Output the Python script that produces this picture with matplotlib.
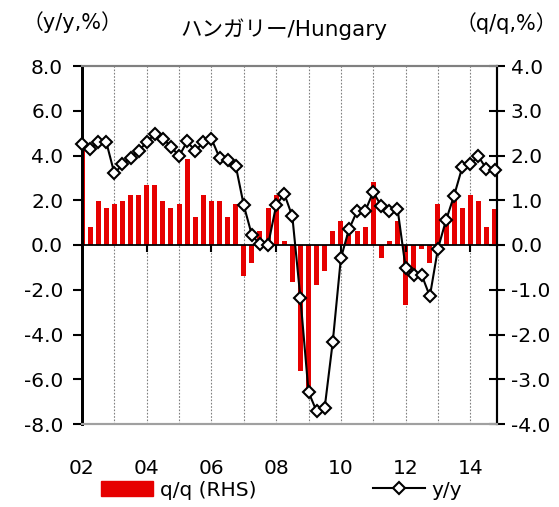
import numpy as np
import matplotlib.pyplot as plt
from matplotlib.patches import Patch
from matplotlib.lines import Line2D

plt.rcParams['font.family'] = ['DejaVu Sans', 'Noto Sans CJK JP']

# quarterly, 2002Q1 .. 2014Q4
yy = [4.5, 4.3, 4.6, 4.6, 3.2, 3.6, 3.9, 4.2, 4.6, 4.95, 4.75, 4.4,
      3.97, 4.63, 4.2, 4.6, 4.75, 3.9, 3.82, 3.55, 1.77, 0.44, 0.03, 0.0,
      1.77, 2.29, 1.28, -2.37, -6.57, -7.43, -7.27, -4.32, -0.59, 0.70, 1.51, 1.51,
      2.37, 1.74, 1.51, 1.63, -1.01, -1.35, -1.35, -2.29, -0.16, 1.11, 2.21, 3.47,
      3.62, 3.96, 3.40, 3.37]
qq = [2.15, 0.40, 0.99, 0.82, 0.91, 0.99, 1.12, 1.12, 1.34, 1.34, 0.99, 0.82,
      0.91, 1.93, 0.62, 1.12, 0.99, 0.99, 0.62, 0.91, -0.70, -0.40, 0.32, 0.82,
      1.12, 0.10, -0.82, -2.82, -3.3, -0.90, -0.59, 0.31, 0.53, 0.22, 0.31, 0.40,
      1.41, -0.30, 0.10, 0.53, -1.34, -0.70, -0.10, -0.40, 0.91, 0.60, 1.0, 0.82,
      1.12, 0.99, 0.40, 0.80]
year_labels = ['02', '04', '06', '08', '10', '12', '14']

x = np.arange(len(yy))
year_pos = np.arange(0, len(yy), 8)
grid_pos = np.arange(4, len(yy), 4)

red = '#e60000'
fs = 14.5

fig = plt.figure(figsize=(5.59, 5.07), dpi=100)
ax = fig.add_axes([82/559, 83/507, 415/559, 358/507])   # host: q/q bars, right scale
ax2 = ax.twinx()                                         # y/y line, left scale
ax.yaxis.tick_right()
ax2.yaxis.tick_left()

ax.bar(x, qq, width=0.62, color=red, zorder=2)
ax.set_xlim(0, 51.3)
ax.set_ylim(-4, 4)
ax.set_yticks(np.arange(-4, 4.1, 1))
ax.set_yticklabels(['%.1f' % v for v in np.arange(-4, 4.1, 1)])
ax.tick_params(axis='y', which='both', right=True, left=False, labelright=True,
               labelleft=False, direction='inout', length=12, width=1.5,
               labelsize=fs, pad=4)

ax.set_xticks(year_pos)
ax.set_xticklabels(year_labels)
ax.set_xticks(grid_pos, minor=True)
ax.tick_params(axis='x', which='both', length=0, labelsize=fs, pad=25)
ax.grid(axis='x', which='both', color='#808080', linestyle=(0, (1.5, 1.5)), lw=0.8, zorder=0)

ax2.plot(x, yy, color='black', lw=1.5, marker='D', ms=6.5, mfc='white',
         mec='black', mew=1.5, zorder=5, clip_on=False)
ax2.axhline(0, color='black', lw=1.3, zorder=3)
ax2.plot(year_pos[1:], np.zeros(len(year_pos) - 1), ls='', marker=3, ms=5,
         mew=1.5, color='black', zorder=3)
ax2.set_ylim(-8, 8)
ax2.set_yticks(np.arange(-8, 8.1, 2))
ax2.set_yticklabels(['%.1f' % v for v in np.arange(-8, 8.1, 2)])
ax2.tick_params(axis='y', direction='out', length=6.5, width=1.5, labelsize=fs, pad=7)

for a in (ax, ax2):
    a.spines['left'].set_color('black')
    a.spines['left'].set_linewidth(2)
    a.spines['right'].set_color('black')
    a.spines['right'].set_linewidth(1.5)
    a.spines['top'].set_color('#808080')
    a.spines['top'].set_linewidth(1.5)
    a.spines['bottom'].set_color('#a0a0a0')
    a.spines['bottom'].set_linewidth(1.5)

fig.text(72/559, 1 - 22/507, '（y/y,%）', ha='center', va='center', fontsize=15)
fig.text(506/559, 1 - 23/507, '（q/q,%）', ha='center', va='center', fontsize=15)
fig.text(284/559, 1 - 29/507, 'ハンガリー/Hungary', ha='center', va='center', fontsize=15.5)

fig.legend(handles=[Patch(color=red)], labels=['q/q (RHS)'], loc='center left',
           bbox_to_anchor=(83/559, 1 - 490/507), frameon=False, fontsize=fs,
           handlelength=2.6, handletextpad=0.3)
fig.legend(handles=[Line2D([], [], color='black', lw=1.5, marker='D', ms=6.5,
                           mfc='white', mec='black', mew=1.5)],
           labels=['y/y'], loc='center left', bbox_to_anchor=(355/559, 1 - 490/507),
           frameon=False, fontsize=fs, handlelength=2.6, handletextpad=0.3, numpoints=1)

fig.savefig('out.png', dpi=100)
